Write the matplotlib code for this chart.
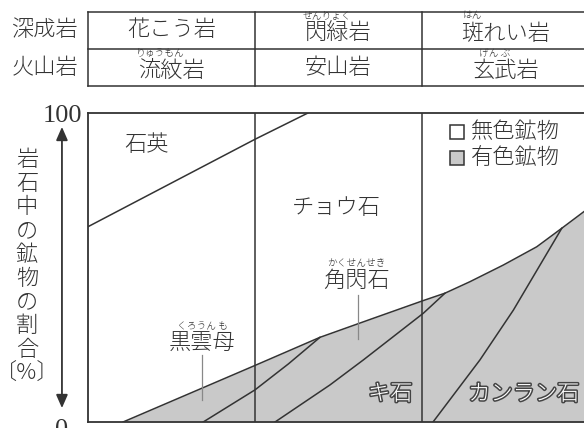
import matplotlib
matplotlib.use('Agg')
import matplotlib.pyplot as plt
import matplotlib.patches
import matplotlib.patheffects as pe

plt.rcParams['font.family'] = ['Noto Sans CJK JP', 'DejaVu Sans']
plt.rcParams['font.weight'] = 'light'

INK = '#333333'
GRAY = '#c9c9c9'

X_RIGHT = 2.97  # one rock column = 1 unit

# table of rocks (column 0..2 = felsic -> mafic)
PLUTONIC = ['花こう岩', '閃緑岩', '斑れい岩']
PLUTONIC_KANA = ['', 'せんりょく', 'はん']
PLUTONIC_KANA_N = [0, 2, 1]
VOLCANIC = ['流紋岩', '安山岩', '玄武岩']
VOLCANIC_KANA = ['りゅうもん', '', 'げん ぶ']
VOLCANIC_KANA_N = [2, 0, 2]
ROW_NAMES = ['深成岩', '火山岩']

# mineral boundaries, y in %
quartzX = [0.0, 1.0, 1.317]
quartzY = [63.2, 91.5, 100.0]

maficX = [0.21, 1.0, 1.389, 1.70, 2.008, 2.138, 2.287, 2.487, 2.687, 2.837, 2.97]
maficY = [0.0, 18.3, 27.4, 33.4, 39.3, 41.7, 45.4, 50.8, 56.7, 62.7, 68.1]

biotiteX = [0.69, 1.0, 1.2, 1.389]
biotiteY = [0.0, 10.4, 18.8, 27.4]

amphiboleX = [1.12, 1.449, 1.649, 2.008, 2.138]
amphiboleY = [0.0, 12.0, 20.1, 35.2, 41.7]

pyroxeneX = [2.066, 2.347, 2.547, 2.837]
pyroxeneY = [0.0, 20.1, 36.2, 62.7]

YLABEL_CHARS = ['岩', '石', '中', 'の', '鉱', '物', 'の', '割', '合', '〔%〕']


def ruby(ax, x, y, text, kana, nChars, size=16, **kw):
    ax.text(x, y, text, ha='center', va='center', fontsize=size, color=INK, clip_on=False, **kw)
    if kana:
        dx = (nChars - len(text)) / 2 * size
        ax.annotate(kana, (x, y), xytext=(dx, size * 0.78), textcoords='offset points',
                    ha='center', va='center', fontsize=7, color=INK, annotation_clip=False)


fig = plt.figure(figsize=(5.84, 4.28), dpi=100)

# ---- rock table
tab = fig.add_axes([88 / 584, (428 - 86) / 428, 496 / 584, 74 / 428])
tab.set_xlim(0, X_RIGHT)
tab.set_ylim(86, 12)
tab.axis('off')
for yy in [12, 48.5, 86]:
    tab.plot([0, X_RIGHT], [yy, yy], color=INK, lw=1.1, clip_on=False)
for xx in [0, 1, 2]:
    tab.plot([xx, xx], [12, 86], color=INK, lw=1.1, clip_on=False)

for rowY, names, kanas, kanaN in [(30, PLUTONIC, PLUTONIC_KANA, PLUTONIC_KANA_N),
                                  (67.5, VOLCANIC, VOLCANIC_KANA, VOLCANIC_KANA_N)]:
    for i, name in enumerate(names):
        yy = rowY + (3.5 if kanas[i] else 0)
        ruby(tab, i + 0.5, yy, name, kanas[i], kanaN[i])
tab.text(-0.26, 30, ROW_NAMES[0], ha='center', va='center', fontsize=16, color=INK)
tab.text(-0.26, 67.5, ROW_NAMES[1], ha='center', va='center', fontsize=16, color=INK)

# ---- mineral chart
ax = fig.add_axes([88 / 584, 6 / 428, 496 / 584, 309 / 428])
ax.set_xlim(0, X_RIGHT)
ax.set_ylim(0, 100)
ax.axis('off')

ax.fill_between(maficX, maficY, 0, color=GRAY, lw=0)

for xs, ys in [(quartzX, quartzY), (maficX, maficY), (biotiteX, biotiteY),
               (amphiboleX, amphiboleY), (pyroxeneX, pyroxeneY)]:
    ax.plot(xs, ys, color=INK, lw=1.1, solid_joinstyle='round')

ax.vlines([1, 2], 0, 100, color=INK, lw=1.1)
ax.plot([0, 0], [0, 100], color=INK, lw=1.3, clip_on=False)
ax.plot([0, X_RIGHT], [100, 100], color=INK, lw=1.3, clip_on=False)
ax.plot([0, X_RIGHT], [0, 0], color=INK, lw=1.3, clip_on=False)

# mineral names
ax.text(0.353, 89.6, '石英', ha='center', va='center', fontsize=16, color=INK)
ax.text(1.485, 69.3, 'チョウ石', ha='center', va='center', fontsize=16, color=INK)
ruby(ax, 1.605, 45.8, '角閃石', 'かくせんせき', 3)
ax.plot([1.617, 1.617], [41.1, 26.9], color='#888888', lw=0.9)
ruby(ax, 0.683, 25.4, '黒雲母', 'くろうん も', 3)
ax.plot([0.681, 0.681], [21.7, 7.1], color='#888888', lw=0.9)

outline = [pe.withStroke(linewidth=2.2, foreground='#444444')]
ax.text(1.81, 9.0, 'キ石', ha='center', va='center', fontsize=16, color='white', path_effects=outline)
ax.text(2.61, 9.0, 'カンラン石', ha='center', va='center', fontsize=16, color='white', path_effects=outline)

# legend
for yy, fc, label in [(93.9, 'white', '無色鉱物'), (85.4, GRAY, '有色鉱物')]:
    ax.add_patch(matplotlib.patches.Rectangle((2.166, yy - 2.3), 0.086, 4.6, facecolor=fc,
                                              edgecolor=INK, lw=1.1))
    ax.text(2.295, yy, label, ha='left', va='center', fontsize=16, color=INK)

# y axis: arrow, ticks, vertical label
ax.annotate('', xy=(-0.156, 95.5), xytext=(-0.156, 4.5),
            arrowprops=dict(arrowstyle='<|-|>,head_length=0.8,head_width=0.35',
                            color=INK, lw=1.3, shrinkA=0, shrinkB=0),
            annotation_clip=False)
ax.text(-0.152, 99.0, '100', ha='center', va='center', fontsize=19, color=INK,
        family='Liberation Serif', clip_on=False)
ax.text(-0.156, -2.6, '0', ha='center', va='center', fontsize=19, color=INK,
        family='Liberation Serif', clip_on=False)

for i, ch in enumerate(YLABEL_CHARS):
    ax.text(-0.365, 84.8 - i * 7.69, ch, ha='center', va='center', fontsize=16,
            color=INK, clip_on=False)

fig.savefig('out.png', dpi=100)
